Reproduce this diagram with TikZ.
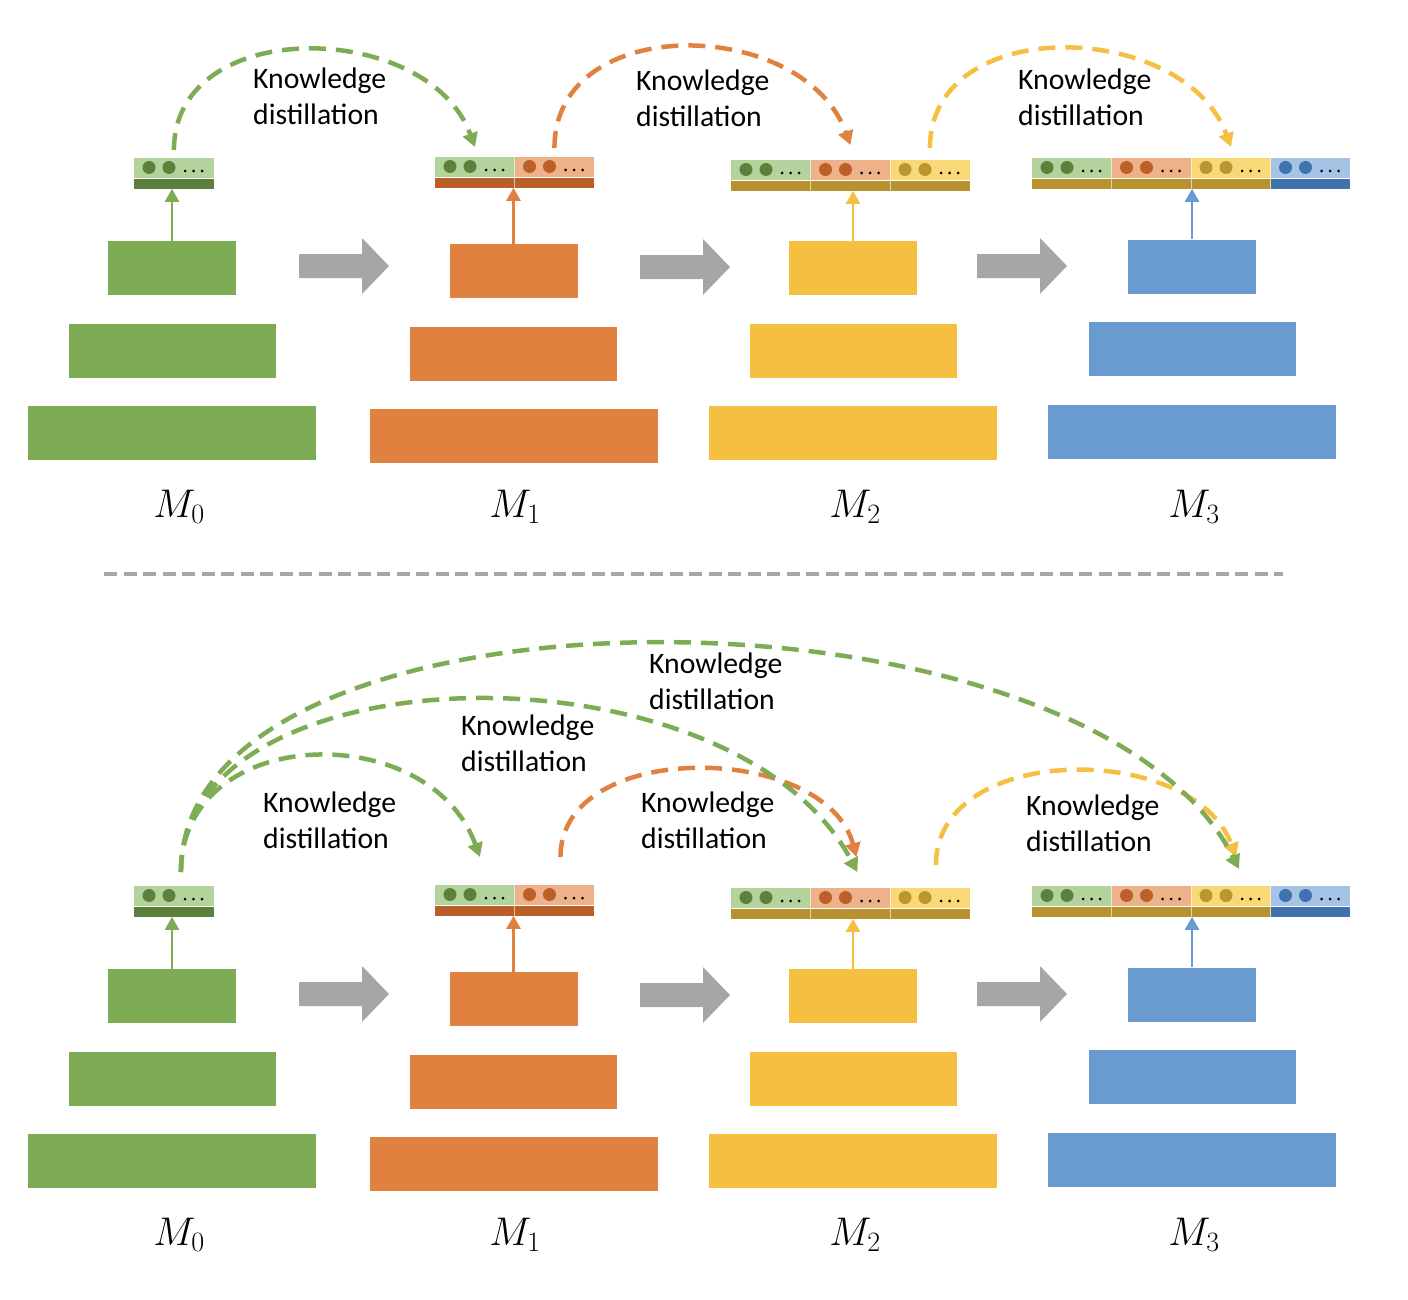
\RequirePackage{fix-cm}
\documentclass[tikz,border=0pt]{standalone}
\usepackage{fontspec}
\setmainfont{Carlito}
\usetikzlibrary{arrows.meta}

\definecolor{mgreen}{HTML}{7EAC55}
\definecolor{morange}{HTML}{E0813F}
\definecolor{myellow}{HTML}{F5BF42}
\definecolor{mblue}{HTML}{6A9BD0}
\definecolor{seg1}{HTML}{B4D39C}
\definecolor{seg2}{HTML}{EDB28A}
\definecolor{seg3}{HTML}{F9D878}
\definecolor{seg4}{HTML}{A5C3E5}
\definecolor{dot1}{HTML}{5B813A}
\definecolor{dot2}{HTML}{BC5F28}
\definecolor{dot3}{HTML}{BC952F}
\definecolor{dot4}{HTML}{3F72AF}
\definecolor{strip0}{HTML}{5B7F3A}
\definecolor{strip1}{HTML}{B95F27}
\definecolor{strip2}{HTML}{B8922F}
\definecolor{strip3}{HTML}{B8922F}
\definecolor{arrgray}{HTML}{A6A6A6}

\tikzset{
  blk/.style={fill=#1, inner sep=0, minimum height=54},
  seg/.style={fill=#1, inner sep=0, minimum width=79.5, minimum height=20},
  strip/.style={fill=#1, inner sep=0, minimum width=79.5, minimum height=10},
  feed/.style={draw=#1, line width=2.5pt, -{Triangle[width=14pt, length=13pt]}},
  kd/.style={draw=#1, line width=4.5pt, dash pattern=on 17pt off 10pt, -{Triangle[width=15pt, length=14pt]}},
  kdtext/.style={font=\fontsize{29.7}{36}\selectfont, align=left, anchor=west, inner sep=0},
  mlabel/.style={font=\fontsize{40}{40}\selectfont, inner sep=0},
}

\begin{document}
\begin{tikzpicture}[x=1pt, y=1pt]
    \useasboundingbox (0,0) rectangle (1408,-1300);
    % the two panels share the same model stacks
    \foreach \p/\py in {a/0, b/728} {
      \foreach \c/\cx/\dy/\bx/\ty/\mx/\col in {0/172/0/134/0/179/mgreen, 1/513.5/3/435/-1/515/morange, 2/853/0/731/2/855/myellow, 3/1192/-1.5/1032/0/1194/mblue} {
        % layers
        \node[blk=\col, minimum width=128] (l\p\c-1) at (\cx, -268-\dy-\py) {};
        \node[blk=\col, minimum width=207] (l\p\c-2) at (\cx, -350.5-\dy-\py) {};
        \node[blk=\col, minimum width=288] (l\p\c-3) at (\cx, -433-\dy-\py) {};
        % token bar
        \pgfmathtruncatemacro\n{\c+1}
        \foreach \k in {1,...,\n} {
          \pgfmathsetmacro\sx{\bx+79.5*(\k-1)}
          \def\sc{strip\c}
          \ifnum\k=4 \def\sc{dot4}\fi
          \node[seg=seg\k, anchor=north west] (t\p\c-\k) at (\sx, -158-\ty-\py) {};
          \node[strip=\sc, anchor=north] (s\p\c-\k) at (t\p\c-\k.south) {};
          \fill[dot\k] (\sx+15, -167.5-\ty-\py) circle (6.5) (\sx+35, -167.5-\ty-\py) circle (6.5);
          \fill (\sx+51, -171-\ty-\py) circle (1.5) (\sx+59.5, -171-\ty-\py) circle (1.5) (\sx+68, -171-\ty-\py) circle (1.5);
          \ifnum\k>1 \draw[white, opacity=0.6, line width=0.8pt] (t\p\c-\k.north west) -- (s\p\c-\k.south west);\fi
        }
        \draw[feed=\col] (l\p\c-1.north) -- (l\p\c-1.north |- s\p\c-1.south);
        \node[mlabel] (m\p\c) at (\mx, -507-\py) {$M_\c$};
      }
      % step arrows
      \foreach \ax/\ay in {299/266, 640/267, 977/266}
        \fill[arrgray] (\ax, -\ay-\py) ++(0,12) -- ++(63,0) -- ++(0,16) -- ++(27,-28) -- ++(-27,-28) -- ++(0,16) -- ++(-63,0) -- cycle;
    }

    % separator
    \draw[arrgray, line width=4pt, dash pattern=on 13pt off 6.5pt] (104,-574) -- (1283,-574);

    % top: distillation from the previous model only
    \draw[kd=mgreen] ([yshift=8]ta0-1.north) to[out=90, in=110, looseness=1.15] ([yshift=10]ta1-1.north);
    \node[kdtext] (kda1) at (253,-96) {Knowledge\\distillation};
    \draw[kd=morange] ([yshift=9]ta1-2.north) to[out=90, in=110, looseness=1.18] ([yshift=15]ta2-2.north);
    \node[kdtext] (kda2) at (636,-98) {Knowledge\\distillation};
    \draw[kd=myellow] ([yshift=12]ta2-3.north) to[out=90, in=110, looseness=1.15] ([yshift=11]ta3-3.north);
    \node[kdtext] (kda3) at (1018,-97) {Knowledge\\distillation};

    % bottom: M0 teaches every later model
    \draw[kd=morange] ([xshift=6, yshift=28]tb1-2.north) to[out=90, in=105, looseness=1.03] ([xshift=6, yshift=31]tb2-2.north);
    \draw[kd=myellow] ([xshift=6, yshift=23]tb2-3.north) to[out=90, in=110, looseness=1.05] ([xshift=5, yshift=29]tb3-3.north);
    \draw[kd=mgreen] ([xshift=7, yshift=14]tb0-1.north) to[out=90, in=110, looseness=1.27] ([xshift=5, yshift=28]tb1-1.north);
    \draw[kd=mgreen] ([xshift=7, yshift=14]tb0-1.north) .. controls +(0,225) and +(-125,235) .. ([xshift=7, yshift=16]tb2-2.north);
    \draw[kd=mgreen] ([xshift=7, yshift=14]tb0-1.north) .. controls +(0,305) and +(-150,300) .. ([xshift=8, yshift=17]tb3-3.north);
    \node[kdtext] (kdb1) at (263,-820) {Knowledge\\distillation};
    \node[kdtext] (kdb2) at (461,-743) {Knowledge\\distillation};
    \node[kdtext] (kdb3) at (649,-681) {Knowledge\\distillation};
    \node[kdtext] (kdb4) at (641,-820) {Knowledge\\distillation};
    \node[kdtext] (kdb5) at (1026,-823) {Knowledge\\distillation};
\end{tikzpicture}
\end{document}
